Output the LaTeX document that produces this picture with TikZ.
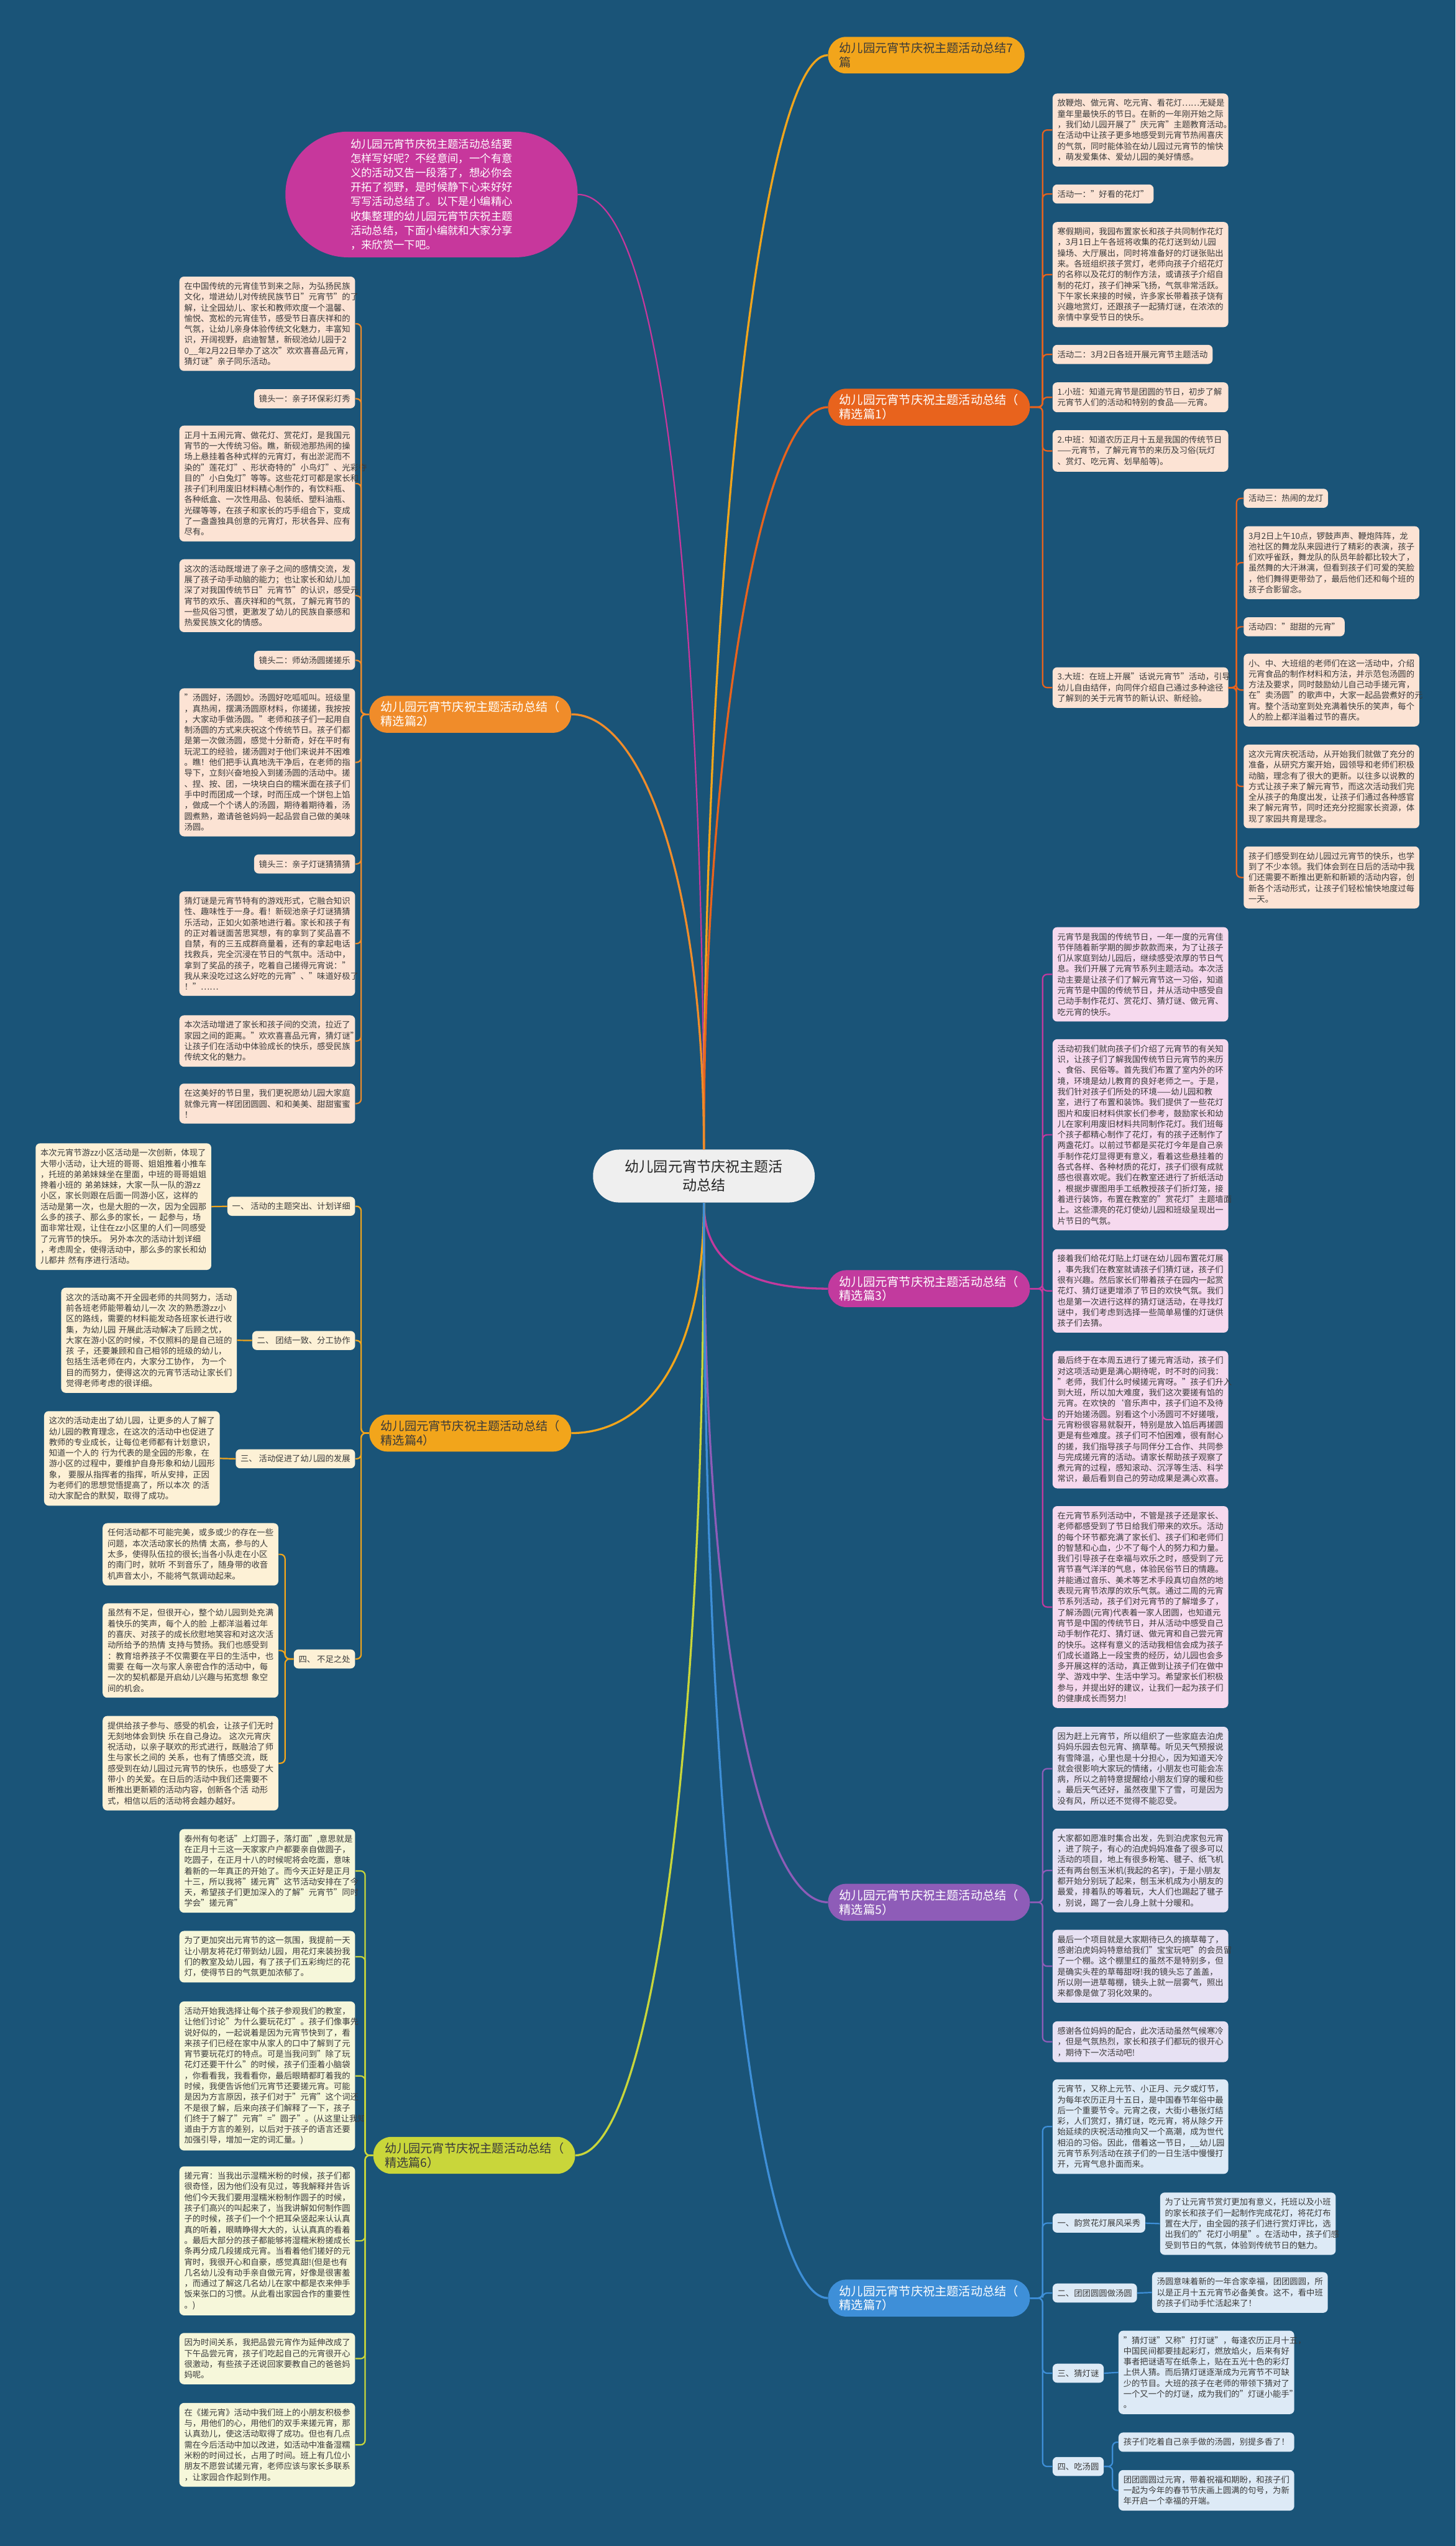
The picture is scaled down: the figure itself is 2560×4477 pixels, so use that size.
\documentclass[tikz,border=0pt]{standalone}
\usepackage{fontspec}
\setmainfont{Noto Sans CJK SC}
\usepackage{tikz}
\usetikzlibrary{positioning,calc}
\definecolor{fondo}{HTML}{1A5478}
\definecolor{texto}{HTML}{3A3A3A}
\definecolor{centrofondo}{HTML}{EFEFEF}
\definecolor{rosa}{HTML}{C7379C}
\definecolor{ambar}{HTML}{F2A51B}
\definecolor{naranja}{HTML}{E8631D}
\definecolor{naranjaclaro}{HTML}{F08C2A}
\definecolor{fucsia}{HTML}{C23A9E}
\definecolor{morado}{HTML}{8E5CB8}
\definecolor{lima}{HTML}{C9D63A}
\definecolor{azul}{HTML}{3E8FD8}
\definecolor{melocoton}{HTML}{FCE3D4}
\definecolor{rosado}{HTML}{F6D9EE}
\definecolor{crema}{HTML}{FDF1D6}
\definecolor{lavanda}{HTML}{E7E1F3}
\definecolor{verdecrema}{HTML}{F6F7DA}
\definecolor{celeste}{HTML}{DDEAF6}
\newcommand{\letra}[2]{\fontsize{#1}{#2}\selectfont}

\begin{document}
\begin{tikzpicture}[x=0.5pt,y=-0.5pt,
  caja/.style={fill=#1,rounded corners=4pt,inner xsep=4.25pt,inner ysep=5pt,
               align=left,text=texto,font=\letra{7.3}{9.45}},
  hoja/.style={caja=#1,text width=146pt},
  rama/.style={fill=#1,rounded corners=16pt,inner xsep=10pt,inner ysep=5pt,
               align=left,text=white,font=\letra{10.5}{12.5}},
  tronco/.style={draw=#1,line width=1.8pt},
  enlace/.style={draw=#1,line width=1.2pt,rounded corners=4pt}
]
\fill[fondo] (0,0) rectangle (2560,4477);
\useasboundingbox (0,0) rectangle (2560,4477);

% centro e introduccion
\node[fill=centrofondo,rounded corners=23pt,minimum width=195pt,minimum height=46.5pt,
      align=center,text=black!85,font=\letra{12.6}{16.5}] (centro) at (1238,2068)
      {幼儿园元宵节庆祝主题活\\动总结};
\node[fill=rosa,rounded corners=55pt,minimum width=257pt,minimum height=110.5pt,
      text width=142.5pt,align=left,text=white,font=\letra{9.5}{12.65}] (intro) at (759,342)
      {幼儿园元宵节庆祝主题活动总结要\\怎样写好呢？不经意间，一个有意\\义的活动又告一段落了，想必你会\\开拓了视野，是时候静下心来好好\\写写活动总结了。以下是小编精心\\收集整理的幼儿园元宵节庆祝主题\\活动总结，下面小编就和大家分享\\，来欣赏一下吧。};

% ramas
\node[rama=ambar,text=texto,anchor=west] (r0) at (1456,97) {幼儿园元宵节庆祝主题活动总结7\\篇};
\node[rama=naranja,anchor=west] (r1) at (1456,716) {幼儿园元宵节庆祝主题活动总结（\\精选篇1）};
\node[rama=naranjaclaro,anchor=east] (r2) at (1005,1256) {幼儿园元宵节庆祝主题活动总结（\\精选篇2）};
\node[rama=fucsia,anchor=west] (r3) at (1456,2266) {幼儿园元宵节庆祝主题活动总结（\\精选篇3）};
\node[rama=ambar,text=texto,anchor=east] (r4) at (1005,2520) {幼儿园元宵节庆祝主题活动总结（\\精选篇4）};
\node[rama=morado,anchor=west] (r5) at (1456,3345) {幼儿园元宵节庆祝主题活动总结（\\精选篇5）};
\node[rama=lima,text=texto,anchor=east] (r6) at (1012,3790) {幼儿园元宵节庆祝主题活动总结（\\精选篇6）};
\node[rama=azul,anchor=west] (r7) at (1456,4041) {幼儿园元宵节庆祝主题活动总结（\\精选篇7）};

%精选篇1
\node[hoja=melocoton,anchor=north west] (p1a) at (1851,164) {放鞭炮、做元宵、吃元宵、看花灯……无疑是\\童年里最快乐的节日。在新的一年刚开始之际\\，我们幼儿园开展了"庆元宵"主题教育活动。\\在活动中让孩子更多地感受到元宵节热闹喜庆\\的气氛，同时能体验在幼儿园过元宵节的愉快\\，萌发爱集体、爱幼儿园的美好情感。};
\node[caja=melocoton,anchor=north west] (p1b) at (1851,324) {活动一："好看的花灯"};
\node[hoja=melocoton,anchor=north west] (p1c) at (1851,390) {寒假期间，我园布置家长和孩子共同制作花灯\\，3月1日上午各班将收集的花灯送到幼儿园\\操场、大厅展出，同时将准备好的灯谜张贴出\\来。各班组织孩子赏灯，老师向孩子介绍花灯\\的名称以及花灯的制作方法，或请孩子介绍自\\制的花灯，孩子们神采飞扬，气氛非常活跃。\\下午家长来接的时候，许多家长带着孩子饶有\\兴趣地赏灯，还跟孩子一起猜灯谜，在浓浓的\\亲情中享受节日的快乐。};
\node[caja=melocoton,anchor=north west] (p1d) at (1851,606) {活动二：3月2日各班开展元宵节主题活动};
\node[hoja=melocoton,anchor=north west] (p1e) at (1851,672) {1.小班：知道元宵节是团圆的节日，初步了解\\元宵节人们的活动和特别的食品——元宵。};
\node[hoja=melocoton,anchor=north west] (p1f) at (1851,756) {2.中班：知道农历正月十五是我国的传统节日\\——元宵节，了解元宵节的来历及习俗(玩灯\\、赏灯、吃元宵、划旱船等)。};
\node[hoja=melocoton,anchor=north west] (p1g) at (1851,1173) {3.大班：在班上开展"话说元宵节"活动，引导\\幼儿自由结伴，向同伴介绍自己通过多种途径\\了解到的关于元宵节的新认识、新经验。};
\node[caja=melocoton,anchor=north west] (p1g1) at (2187,859) {活动三：热闹的龙灯};
\node[hoja=melocoton,anchor=north west] (p1g2) at (2187,925) {3月2日上午10点，锣鼓声声、鞭炮阵阵，龙\\池社区的舞龙队来园进行了精彩的表演，孩子\\们欢呼雀跃，舞龙队的队员年龄都比较大了，\\虽然舞的大汗淋漓，但看到孩子们可爱的笑脸\\，他们舞得更带劲了，最后他们还和每个班的\\孩子合影留念。};
\node[caja=melocoton,anchor=north west] (p1g3) at (2187,1085) {活动四："甜甜的元宵"};
\node[hoja=melocoton,anchor=north west] (p1g4) at (2187,1149) {小、中、大班组的老师们在这一活动中，介绍\\元宵食品的制作材料和方法，并示范包汤圆的\\方法及要求，同时鼓励幼儿自己动手搓元宵，\\在"卖汤圆"的歌声中，大家一起品尝煮好的元\\宵。整个活动室到处充满着快乐的笑声，每个\\人的脸上都洋溢着过节的喜庆。};
\node[hoja=melocoton,anchor=north west] (p1g5) at (2187,1309) {这次元宵庆祝活动，从开始我们就做了充分的\\准备，从研究方案开始，园领导和老师们积极\\动脑，理念有了很大的更新。以往多以说教的\\方式让孩子来了解元宵节，而这次活动我们完\\全从孩子的角度出发，让孩子们通过各种感官\\来了解元宵节，同时还充分挖掘家长资源，体\\现了家园共育是理念。};
\node[hoja=melocoton,anchor=north west] (p1g6) at (2187,1488) {孩子们感受到在幼儿园过元宵节的快乐，也学\\到了不少本领。我们体会到在日后的活动中我\\们还需要不断推出更新和新颖的活动内容，创\\新各个活动形式，让孩子们轻松愉快地度过每\\一天。};

% 精选篇2
\node[hoja=melocoton,anchor=north east] (p2a) at (625,486) {在中国传统的元宵佳节到来之际，为弘扬民族\\文化，增进幼儿对传统民族节日"元宵节"的了\\解，让全园幼儿、家长和教师欢度一个温馨、\\愉悦、宽松的元宵佳节，感受节日喜庆祥和的\\气氛，让幼儿亲身体验传统文化魅力，丰富知\\识，开阔视野，启迪智慧，新砚池幼儿园于2\\0\_\_年2月22日举办了这次"欢欢喜喜品元宵，\\猜灯谜"亲子同乐活动。};
\node[caja=melocoton,anchor=north east] (p2b) at (625,684) {镜头一：亲子环保彩灯秀};
\node[hoja=melocoton,anchor=north east] (p2c) at (625,748) {正月十五闹元宵、做花灯、赏花灯，是我国元\\宵节的一大传统习俗。瞧，新砚池那热闹的操\\场上悬挂着各种式样的元宵灯，有出淤泥而不\\染的"莲花灯"、形状奇特的"小鸟灯"、光彩夺\\目的"小白兔灯"等等。这些花灯可都是家长和\\孩子们利用废旧材料精心制作的，有饮料瓶、\\各种纸盒、一次性用品、包装纸、塑料油瓶、\\光碟等等，在孩子和家长的巧手组合下，变成\\了一盏盏独具创意的元宵灯，形状各异、应有\\尽有。};
\node[hoja=melocoton,anchor=north east] (p2d) at (625,983) {这次的活动既增进了亲子之间的感情交流，发\\展了孩子动手动脑的能力；也让家长和幼儿加\\深了对我国传统节日"元宵节"的认识，感受元\\宵节的欢乐、喜庆祥和的气氛，了解元宵节的\\一些风俗习惯，更激发了幼儿的民族自豪感和\\热爱民族文化的情感。};
\node[caja=melocoton,anchor=north east] (p2e) at (625,1144) {镜头二：师幼汤圆搓搓乐};
\node[hoja=melocoton,anchor=north east] (p2f) at (625,1210) {"汤圆好，汤圆妙。汤圆好吃呱呱叫。班级里\\，真热闹，摆满汤圆原材料，你搓搓，我按按\\，大家动手做汤圆。"老师和孩子们一起用自\\制汤圆的方式来庆祝这个传统节日。孩子们都\\是第一次做汤圆，感觉十分新奇，好在平时有\\玩泥工的经验，搓汤圆对于他们来说并不困难\\。瞧！他们把手认真地洗干净后，在老师的指\\导下，立刻兴奋地投入到搓汤圆的活动中。搓\\、捏、按、团，一块块白白的糯米面在孩子们\\手中时而团成一个球，时而压成一个饼包上馅\\，做成一个个诱人的汤圆，期待着期待着，汤\\圆煮熟，邀请爸爸妈妈一起品尝自己做的美味\\汤圆。};
\node[caja=melocoton,anchor=north east] (p2g) at (625,1502) {镜头三：亲子灯谜猜猜猜};
\node[hoja=melocoton,anchor=north east] (p2h) at (625,1567) {猜灯谜是元宵节特有的游戏形式，它融合知识\\性、趣味性于一身。看！新砚池亲子灯谜猜猜\\乐活动，正如火如荼地进行着。家长和孩子有\\的正对着谜面苦思冥想，有的拿到了奖品喜不\\自禁，有的三五成群商量着，还有的拿起电话\\找救兵，完全沉浸在节日的气氛中。活动中，\\拿到了奖品的孩子，吃着自己搓得元宵说："\\我从来没吃过这么好吃的元宵"、"味道好极了\\！"……};
\node[hoja=melocoton,anchor=north east] (p2i) at (625,1785) {本次活动增进了家长和孩子间的交流，拉近了\\家园之间的距离。"欢欢喜喜品元宵，猜灯谜"\\让孩子们在活动中体验成长的快乐，感受民族\\传统文化的魅力。};
\node[hoja=melocoton,anchor=north east] (p2j) at (625,1905) {在这美好的节日里，我们更祝愿幼儿园大家庭\\就像元宵一样团团圆圆、和和美美、甜甜蜜蜜\\！};

% 精选篇3
\node[hoja=rosado,anchor=north west] (p3a) at (1851,1630) {元宵节是我国的传统节日，一年一度的元宵佳\\节伴随着新学期的脚步款款而来，为了让孩子\\们从家庭到幼儿园后，继续感受浓厚的节日气\\息。我们开展了元宵节系列主题活动。本次活\\动主要是让孩子们了解元宵节这一习俗，知道\\元宵节是中国的传统节日，并从活动中感受自\\己动手制作花灯、赏花灯、猜灯谜、做元宵、\\吃元宵的快乐。};
\node[hoja=rosado,anchor=north west] (p3b) at (1851,1827) {活动初我们就向孩子们介绍了元宵节的有关知\\识，让孩子们了解我国传统节日元宵节的来历\\、食俗、民俗等。首先我们布置了室内外的环\\境，环境是幼儿教育的良好老师之一。于是，\\我们针对孩子们所处的环境——幼儿园和教\\室，进行了布置和装饰。我们提供了一些花灯\\图片和废旧材料供家长们参考，鼓励家长和幼\\儿在家利用废旧材料共同制作花灯。我们班每\\个孩子都精心制作了花灯，有的孩子还制作了\\两盏花灯。以前过节都是买花灯今年是自己亲\\手制作花灯显得更有意义，看着这些悬挂着的\\各式各样、各种材质的花灯，孩子们很有成就\\感也很喜欢呢。我们在教室还进行了折纸活动\\，根据步骤图用手工纸教授孩子们折灯笼，接\\着进行装饰，布置在教室的"赏花灯"主题墙面\\上。这些漂亮的花灯使幼儿园和班级呈现出一\\片节日的气氛。};
\node[hoja=rosado,anchor=north west] (p3c) at (1851,2196) {接着我们给花灯贴上灯谜在幼儿园布置花灯展\\，事先我们在教室就请孩子们猜灯谜，孩子们\\很有兴趣。然后家长们带着孩子在园内一起赏\\花灯、猜灯谜更增添了节日的欢快气氛。我们\\也是第一次进行这样的猜灯谜活动，在寻找灯\\谜中，我们考虑到选择一些简单易懂的灯谜供\\孩子们去猜。};
\node[hoja=rosado,anchor=north west] (p3d) at (1851,2375) {最后终于在本周五进行了搓元宵活动，孩子们\\对这项活动更是满心期待呢，时不时的问我：\\"老师，我们什么时候搓元宵呀。"孩子们升入\\到大班，所以加大难度，我们这次要搓有馅的\\元宵。在欢快的{\char"60}音乐声中，孩子们迫不及待\\的开始搓汤圆。别看这个小汤圆可不好搓哦，\\元宵粉很容易就裂开，特别是放入馅后再搓圆\\更是有些难度。孩子们可不怕困难，很有耐心\\的搓，我们指导孩子与同伴分工合作、共同参\\与完成搓元宵的活动。请家长帮助孩子观察了\\煮元宵的过程，感知滚动、沉浮等生活、科学\\常识，最后看到自己的劳动成果是满心欢喜。};
\node[hoja=rosado,anchor=north west] (p3e) at (1851,2648) {在元宵节系列活动中，不管是孩子还是家长、\\老师都感受到了节日给我们带来的欢乐。活动\\的每个环节都充满了家长们、孩子们和老师们\\的智慧和心血，少不了每个人的努力和力量。\\我们引导孩子在幸福与欢乐之时，感受到了元\\宵节喜气洋洋的气息，体验民俗节日的情趣。\\并能通过音乐、美术等艺术手段真切自然的地\\表现元宵节浓厚的欢乐气氛。通过二周的元宵\\节系列活动，孩子们对元宵节的了解增多了，\\了解汤圆(元宵)代表着一家人团圆，也知道元\\宵节是中国的传统节日，并从活动中感受自己\\动手制作花灯、猜灯谜、做元宵和自己尝元宵\\的快乐。这样有意义的活动我相信会成为孩子\\们成长道路上一段宝贵的经历，幼儿园也会多\\多开展这样的活动，真正做到让孩子们在做中\\学、游戏中学、生活中学习。希望家长们积极\\参与，并提出好的建议，让我们一起为孩子们\\的健康成长而努力!};

% 精选篇4
\node[caja=crema,anchor=north east] (p4n1) at (625,2104) {一、 活动的主题突出、计划详细};
\node[hoja=crema,anchor=north east] (p4a) at (372,2010) {本次元宵节游zz小区活动是一次创新，体现了\\大带小活动，让大班的哥哥、姐姐推着小推车\\，托班的弟弟妹妹坐在里面，中班的哥哥姐姐\\搀着小班的 弟弟妹妹，大家一队一队的游zz\\小区，家长则跟在后面一同游小区，这样的\\活动是第一次，也是大胆的一次，因为全园那\\么多的孩子、那么多的家长，一 起参与，场\\面非常壮观，让住在zz小区里的人们一同感受\\了元宵节的快乐。 另外本次的活动计划详细\\，考虑周全，使得活动中，那么多的家长和幼\\儿都井 然有序进行活动。};
\node[caja=crema,anchor=north east] (p4n2) at (625,2340) {二、 团结一致、分工协作};
\node[hoja=crema,anchor=north east] (p4b) at (417,2264) {这次的活动离不开全园老师的共同努力，活动\\前各班老师能带着幼儿一次 次的熟悉游zz小\\区的路线，需要的材料能发动各班家长进行收\\集，为幼儿园 开展此活动解决了后顾之忧，\\大家在游小区的时候，不仅照料的是自己班的\\孩 子，还要兼顾和自己相邻的班级的幼儿，\\包括生活老师在内，大家分工协作， 为一个\\目的而努力，使得这次的元宵节活动让家长们\\觉得老师考虑的很详细。};
\node[caja=crema,anchor=north east] (p4n3) at (625,2548) {三、 活动促进了幼儿园的发展};
\node[hoja=crema,anchor=north east] (p4c) at (387,2481) {这次的活动走出了幼儿园，让更多的人了解了\\幼儿园的教育理念，在这次的活动中也促进了\\教师的专业成长，让每位老师都有计划意识，\\知道一个人的 行为代表的是全园的形象，在\\游小区的过程中，要维护自身形象和幼儿园形\\象， 要服从指挥者的指挥，听从安排，正因\\为老师们的思想觉悟提高了，所以本次 的活\\动大家配合的默契，取得了成功。};
\node[caja=crema,anchor=north east] (p4n4) at (625,2900) {四、 不足之处};
\node[hoja=crema,anchor=north east] (p4d) at (490,2678) {任何活动都不可能完美，或多或少的存在一些\\问题，本次活动家长的热情 太高，参与的人\\太多，使得队伍拉的很长;当各小队走在小区\\的南门时，就听 不到音乐了，随身带的收音\\机声音太小，不能将气氛调动起来。};
\node[hoja=crema,anchor=north east] (p4e) at (490,2819) {虽然有不足，但很开心，整个幼儿园到处充满\\着快乐的笑声，每个人的脸 上都洋溢着过年\\的喜庆、对孩子的成长欣慰地笑容和对这次活\\动所给予的热情 支持与赞扬。我们也感受到\\：教育培养孩子不仅需要在平日的生活中，也\\需要 在每一次与家人亲密合作的活动中，每\\一次的契机都是开启幼儿兴趣与拓宽想 象空\\间的机会。};
\node[hoja=crema,anchor=north east] (p4f) at (490,3017) {提供给孩子参与、感受的机会，让孩子们无时\\无刻地体会到快 乐在自己身边。 这次元宵庆\\祝活动，以亲子联欢的形式进行，既融洽了师\\生与家长之间的 关系，也有了情感交流，既\\感受到在幼儿园过元宵节的快乐，也感受了大\\带小 的关爱。在日后的活动中我们还需要不\\断推出更新颖的活动内容，创新各个活 动形\\式，相信以后的活动将会越办越好。};

% 精选篇5
\node[hoja=lavanda,anchor=north west] (p5a) at (1851,3036) {因为赶上元宵节，所以组织了一些家庭去泊虎\\妈妈乐园去包元宵、摘草莓。听见天气预报说\\有雪降温，心里也是十分担心，因为知道天冷\\就会很影响大家玩的情绪，小朋友也可能会冻\\病，所以之前特意提醒给小朋友们穿的暖和些\\。最后天气还好，虽然夜里下了雪，可是因为\\没有风，所以还不觉得不能忍受。};
\node[hoja=lavanda,anchor=north west] (p5b) at (1851,3215) {大家都如愿准时集合出发，先到泊虎家包元宵\\，进了院子，有心的泊虎妈妈准备了很多可以\\活动的项目，地上有很多粉笔、毽子、纸飞机\\还有两台刨玉米机(我起的名字)，于是小朋友\\都开始分别玩了起来，刨玉米机成为小朋友的\\最爱，排着队的等着玩，大人们也踢起了毽子\\，别说，踢了一会儿身上就十分暖和。};
\node[hoja=lavanda,anchor=north west] (p5c) at (1851,3393) {最后一个项目就是大家期待已久的摘草莓了，\\感谢泊虎妈妈特意给我们"宝宝玩吧"的会员留\\了一个棚。这个棚里红的虽然不是特别多，但\\是确实头茬的草莓甜呀!我的镜头忘了盖盖，\\所以刚一进草莓棚，镜头上就一层雾气，照出\\来都像是做了羽化效果的。};
\node[hoja=lavanda,anchor=north west] (p5d) at (1851,3554) {感谢各位妈妈的配合，此次活动虽然气候寒冷\\，但是气氛热烈，家长和孩子们都玩的很开心\\，期待下一次活动吧!};

% 精选篇6
\node[hoja=verdecrema,anchor=north east] (p6a) at (625,3216) {泰州有句老话"上灯圆子，落灯面",意思就是\\在正月十三这一天家家户户都要亲自做圆子，\\吃圆子，在正月十八的时候呢将会吃面，意味\\着新的一年真正的开始了。而今天正好是正月\\十三，所以我将"搓元宵"这节活动安排在了今\\天，希望孩子们更加深入的了解"元宵节"同时\\学会"搓元宵"};
\node[hoja=verdecrema,anchor=north east] (p6b) at (625,3395) {为了更加突出元宵节的这一氛围，我提前一天\\让小朋友将花灯带到幼儿园，用花灯来装扮我\\们的教室及幼儿园，有了孩子们五彩绚烂的花\\灯，使得节日的气氛更加浓郁了。};
\node[hoja=verdecrema,anchor=north east] (p6c) at (625,3519) {活动开始我选择让每个孩子参观我们的教室，\\让他们讨论"为什么要玩花灯"。孩子们像事先\\说好似的，一起说着是因为元宵节快到了，看\\来孩子们已经在家中从家人的口中了解到了元\\宵节要玩花灯的特点。可是当我问到"除了玩\\花灯还要干什么"的时候，孩子们歪着小脑袋\\，你看看我，我看看你，最后眼睛都盯着我的\\时候，我便告诉他们元宵节还要搓元宵。可能\\是因为方言原因，孩子们对于"元宵"这个词还\\不是很了解，后来向孩子们解释了一下，孩子\\们终于了解了"元宵"="圆子"。(从这里让我知\\道由于方言的差别，以后对于孩子的语言还要\\加强引导，增加一定的词汇量。)};
\node[hoja=verdecrema,anchor=north east] (p6d) at (625,3809) {搓元宵：当我出示湿糯米粉的时候，孩子们都\\很奇怪，因为他们没有见过，等我解释并告诉\\他们今天我们要用湿糯米粉制作圆子的时候，\\孩子们高兴的叫起来了，当我讲解如何制作圆\\子的时候，孩子们一个个把耳朵竖起来认认真\\真的听着，眼睛睁得大大的，认认真真的看着\\。最后大部分的孩子都能够将湿糯米粉搓成长\\条再分成几段搓成元宵。当看着他们搓好的元\\宵时，我很开心和自豪，感觉真甜!(但是也有\\几名幼儿没有动手亲自做元宵，好像是很害羞\\，而通过了解这几名幼儿在家中都是衣来伸手\\饭来张口的习惯。从此看出家园合作的重要性\\。)};
\node[hoja=verdecrema,anchor=north east] (p6e) at (625,4102) {因为时间关系，我把品尝元宵作为延伸改成了\\下午品尝元宵，孩子们吃起自己的元宵很开心\\很激动，有些孩子还说回家要教自己的爸爸妈\\妈呢。};
\node[hoja=verdecrema,anchor=north east] (p6f) at (625,4225) {在《搓元宵》活动中我们班上的小朋友积极参\\与，用他们的心，用他们的双手来搓元宵，那\\认真劲儿，使这活动取得了成功。但也有几点\\需在今后活动中加以改进，如活动中准备湿糯\\米粉的时间过长，占用了时间。班上有几位小\\朋友不愿尝试搓元宵，老师应该与家长多联系\\，让家园合作起到作用。};

% 精选篇7
\node[hoja=celeste,anchor=north west] (p7a) at (1851,3656) {元宵节，又称上元节、小正月、元夕或灯节，\\为每年农历正月十五日，是中国春节年俗中最\\后一个重要节令。元宵之夜，大街小巷张灯结\\彩，人们赏灯，猜灯谜，吃元宵，将从除夕开\\始延续的庆祝活动推向又一个高潮，成为世代\\相沿的习俗。因此，借着这一节日，\_\_幼儿园\\元宵节系列活动在孩子们的一日生活中慢慢打\\开，元宵气息扑面而来。};
\node[caja=celeste,anchor=north west] (p7n1) at (1851,3892) {一、韵赏花灯展风采秀};
\node[hoja=celeste,anchor=north west] (p7b) at (2040,3855) {为了让元宵节赏灯更加有意义，托班以及小班\\的家长和孩子们一起制作完成花灯，将花灯布\\置在大厅，由全园的孩子们进行赏灯评比，选\\出我们的"花灯小明星"。在活动中，孩子们感\\受到节日的气氛，体验到传统节日的魅力。};
\node[caja=celeste,anchor=north west] (p7n2) at (1851,4015) {二、团团圆圆做汤圆};
\node[hoja=celeste,anchor=north west] (p7c) at (2026,3995) {汤圆意味着新的一年合家幸福，团团圆圆，所\\以是正月十五元宵节必备美食。这不，看中班\\的孩子们动手忙活起来了！};
\node[caja=celeste,anchor=north west] (p7n3) at (1851,4156) {三、猜灯谜};
\node[hoja=celeste,anchor=north west] (p7d) at (1967,4098) {"猜灯谜"又称"打灯谜"，每逢农历正月十五，\\中国民间都要挂起彩灯，燃放焰火，后来有好\\事者把谜语写在纸条上，贴在五光十色的彩灯\\上供人猜。而后猜灯谜逐渐成为元宵节不可缺\\少的节目。大班的孩子在老师的带领下猜对了\\一个又一个的灯谜，成为我们的"灯谜小能手"\\。};
\node[caja=celeste,anchor=north west] (p7n4) at (1851,4320) {四、吃汤圆};
\node[hoja=celeste,anchor=north west] (p7e) at (1967,4277) {孩子们吃着自己亲手做的汤圆，别提多香了！};
\node[hoja=celeste,anchor=north west] (p7f) at (1967,4343) {团团圆圆过元宵，带着祝福和期盼，和孩子们\\一起为今年的春节节庆画上圆满的句号，为新\\年开启一个幸福的开端。};

% conectores del centro
\draw[line width=1.2pt,draw=rosa] (intro.east) .. controls (1200,342) and (1238,1400) .. (centro.north);
\draw[tronco=ambar] (centro.north) .. controls (1238,1000) and (1340,97) .. (r0.west);
\draw[tronco=naranja] (centro.north) .. controls (1238,1300) and (1340,716) .. (r1.west);
\draw[tronco=naranjaclaro] (centro.north) .. controls (1238,1550) and (1130,1256) .. (r2.east);
\draw[tronco=fucsia] (centro.south) .. controls (1238,2230) and (1330,2266) .. (r3.west);
\draw[tronco=ambar] (centro.south) .. controls (1238,2400) and (1130,2520) .. (r4.east);
\draw[tronco=morado] (centro.south) .. controls (1238,2900) and (1340,3345) .. (r5.west);
\draw[tronco=lima] (centro.south) .. controls (1238,3200) and (1130,3790) .. (r6.east);
\draw[tronco=azul] (centro.south) .. controls (1238,3300) and (1340,4041) .. (r7.west);

% conectores de las ramas
\foreach \h in {p1a,p1b,p1c,p1d,p1e,p1f,p1g}
  \draw[enlace=naranja] (r1.east) -- ++(22,0) |- (\h.west);
\foreach \h in {p1g1,p1g2,p1g3,p1g4,p1g5,p1g6}
  \draw[enlace=naranja] (p1g.east) -- ++(14,0) |- (\h.west);
\foreach \h in {p2a,p2b,p2c,p2d,p2e,p2f,p2g,p2h,p2i,p2j}
  \draw[enlace=naranjaclaro] (r2.west) -- ++(-14,0) |- (\h.east);
\foreach \h in {p3a,p3b,p3c,p3d,p3e}
  \draw[enlace=fucsia] (r3.east) -- ++(22,0) |- (\h.west);
\foreach \h in {p4n1,p4n2,p4n3,p4n4}
  \draw[enlace=ambar] (r4.west) -- ++(-14,0) |- (\h.east);
\draw[enlace=ambar] (p4n1.west) -- (p4a.east);
\draw[enlace=ambar] (p4n2.west) -- (p4b.east);
\draw[enlace=ambar] (p4n3.west) -- (p4c.east);
\foreach \h in {p4d,p4e,p4f}
  \draw[enlace=ambar] (p4n4.west) -- ++(-15,0) |- (\h.east);
\foreach \h in {p5a,p5b,p5c,p5d}
  \draw[enlace=morado] (r5.east) -- ++(22,0) |- (\h.west);
\foreach \h in {p6a,p6b,p6c,p6d,p6e,p6f}
  \draw[enlace=lima] (r6.west) -- ++(-14,0) |- (\h.east);
\foreach \h in {p7a,p7n1,p7n2,p7n3,p7n4}
  \draw[enlace=azul] (r7.east) -- ++(22,0) |- (\h.west);
\draw[enlace=azul] (p7n1.east) -- (p7b.west);
\draw[enlace=azul] (p7n2.east) -- (p7c.west);
\draw[enlace=azul] (p7n3.east) -- (p7d.west);
\foreach \h in {p7e,p7f}
  \draw[enlace=azul] (p7n4.east) -- ++(15,0) |- (\h.west);
\end{tikzpicture}
\end{document}
